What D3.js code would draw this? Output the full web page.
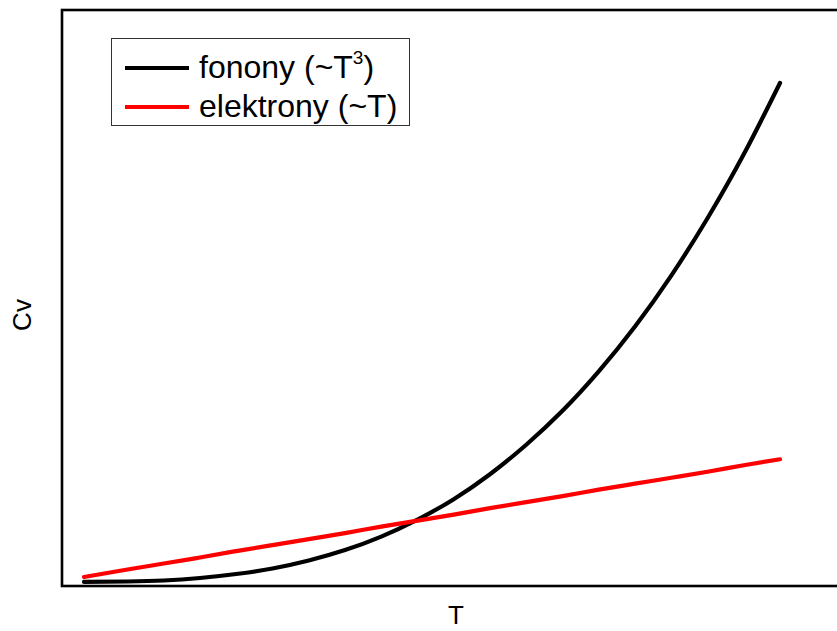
<!DOCTYPE html>
<html>
<head>
<meta charset="utf-8">
<script src="https://cdn.jsdelivr.net/npm/d3@7"></script>
<style>
  body { margin: 0; background: #fff; }
  text { font-family: "Liberation Sans", Arial, sans-serif; }
</style>
</head>
<body>
<svg id="chart" width="837" height="631"></svg>
<script>
// temperature points (arbitrary units)
const temps = [0.04, 0.1, 0.15, 0.2, 0.25, 0.3, 0.35, 0.4, 0.45, 0.5, 0.55, 0.6, 0.65, 0.7, 0.75, 0.8, 0.85, 0.9, 0.95, 1.0];
// phonon heat capacity (~T^3), black curve
const phonons = [0.0001, 0.001, 0.003, 0.008, 0.016, 0.027, 0.043, 0.064, 0.091, 0.125, 0.166, 0.216, 0.275, 0.343, 0.422, 0.512, 0.614, 0.729, 0.857, 1.0];
// electron heat capacity (~T), red line
const electrons = [0.010, 0.025, 0.037, 0.049, 0.062, 0.074, 0.086, 0.098, 0.111, 0.123, 0.135, 0.148, 0.160, 0.172, 0.185, 0.197, 0.209, 0.221, 0.234, 0.246];

const series = [
  { name: "fonony", values: phonons, color: "#000000" },
  { name: "elektrony", values: electrons, color: "#ff0000" }
];

const svg = d3.select("#chart");

// plot frame
const frame = { left: 62, top: 10, right: 850, bottom: 586 };

const x = d3.scaleLinear().domain([0.04, 1]).range([84, 780]);
const y = d3.scaleLinear().domain([0, 1]).range([582, 83]);

svg.append("rect")
  .attr("x", frame.left)
  .attr("y", frame.top)
  .attr("width", frame.right - frame.left)
  .attr("height", frame.bottom - frame.top)
  .attr("fill", "none")
  .attr("stroke", "#000")
  .attr("stroke-width", 2.6);

const line = d3.line()
  .x(d => x(d[0]))
  .y(d => y(d[1]))
  .curve(d3.curveNatural);

series.forEach(s => {
  svg.append("path")
    .datum(temps.map((t, i) => [t, s.values[i]]))
    .attr("fill", "none")
    .attr("stroke", s.color)
    .attr("stroke-width", 4.2)
    .attr("stroke-linecap", "round")
    .attr("d", line);
});

// axis labels
svg.append("text")
  .attr("x", 456)
  .attr("y", 624)
  .attr("text-anchor", "middle")
  .attr("font-size", 26)
  .text("T");

svg.append("text")
  .attr("transform", "translate(31,315) rotate(-90)")
  .attr("text-anchor", "middle")
  .attr("font-size", 26)
  .text("Cv");

// legend
const legend = svg.append("g");
legend.append("rect")
  .attr("x", 111.5)
  .attr("y", 38.5)
  .attr("width", 298)
  .attr("height", 87)
  .attr("fill", "#fff")
  .attr("stroke", "#333")
  .attr("stroke-width", 1);

const legendRows = [
  { color: "#000000", y: 68, base: "fonony (~T", sup: "3", tail: ")" },
  { color: "#ff0000", y: 107, base: "elektrony (~T)", sup: null, tail: null }
];

legendRows.forEach(r => {
  legend.append("line")
    .attr("x1", 125).attr("x2", 189)
    .attr("y1", r.y).attr("y2", r.y)
    .attr("stroke", r.color)
    .attr("stroke-width", 4.2);
  const t = legend.append("text")
    .attr("x", 199)
    .attr("y", r.y + 9.5)
    .attr("font-size", 32);
  t.append("tspan").text(r.base);
  if (r.sup) {
    t.append("tspan").attr("font-size", 19).attr("dy", -14).text(r.sup);
    t.append("tspan").attr("dy", 14).text(r.tail);
  }
});
</script>
</body>
</html>
